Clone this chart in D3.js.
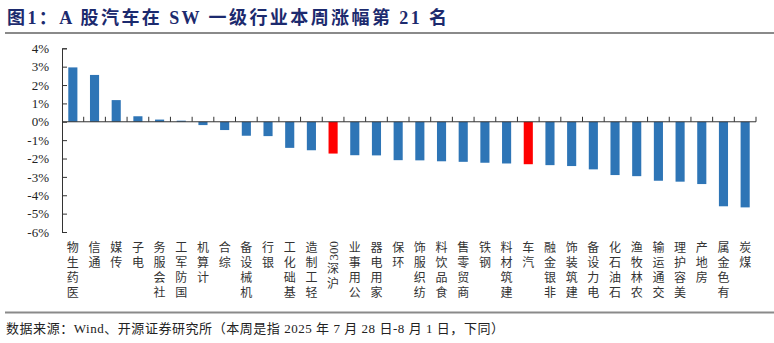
<!DOCTYPE html>
<html>
<head>
<meta charset="utf-8">
<script src="https://cdn.jsdelivr.net/npm/d3@7"></script>
<style>
  html, body { margin: 0; padding: 0; background: #fff; }
  svg { display: block; }
  .title { font-family: "Liberation Serif", "Noto Sans CJK SC", serif; font-weight: bold; font-size: 18px; fill: #1c2a6e; }
  .source { font-family: "Liberation Serif", "Noto Sans CJK SC", serif; font-size: 13px; fill: #222; }
  .y-axis text { font-family: "Liberation Serif", serif; font-size: 13px; fill: #222; }
  .cat-label { font-family: "Noto Sans CJK SC", sans-serif; font-size: 12px; fill: #333;
    writing-mode: vertical-rl; text-orientation: upright; letter-spacing: 3px; }
  .cat-latin { font-family: "Liberation Serif", serif; font-size: 13px; fill: #333; }
</style>
</head>
<body>
<div id="chart"></div>
<script>
// SW level-1 industries + CSI 300, weekly change (%)
const categories = ['医药生物', '通信', '传媒', '电子', '社会服务', '国防军工', '计算机', '综合',
  '机械设备', '银行', '基础化工', '轻工制造', '沪深300', '公用事业', '家用电器', '环保',
  '纺织服饰', '食品饮料', '商贸零售', '钢铁', '建筑材料', '汽车', '非银金融', '建筑装饰',
  '电力设备', '石油石化', '农林牧渔', '交通运输', '美容护理', '房地产', '有色金属', '煤炭'];
const values = [2.96, 2.55, 1.18, 0.30, 0.12, 0.06, -0.18, -0.45,
  -0.76, -0.78, -1.42, -1.55, -1.73, -1.82, -1.83, -2.09,
  -2.10, -2.15, -2.18, -2.23, -2.27, -2.31, -2.36, -2.41,
  -2.59, -2.90, -2.96, -3.21, -3.26, -3.39, -4.60, -4.66];
const highlighted = ['沪深300', '汽车'];
const yTicks = [4, 3, 2, 1, 0, -1, -2, -3, -4, -5, -6];

const titleText = '图1：A 股汽车在 SW 一级行业本周涨幅第 21 名';
const sourceText = '数据来源：Wind、开源证券研究所（本周是指 2025 年 7 月 28 日-8 月 1 日，下同）';

const width = 774, height = 343;
const plot = {left: 62, right: 756, top: 48.3, bottom: 232};

const svg = d3.select('#chart').append('svg')
    .attr('width', width)
    .attr('height', height);

// title and separator lines
svg.append('text')
    .attr('class', 'title')
    .attr('x', 7)
    .attr('y', 24)
    .attr('textLength', 440)
    .attr('lengthAdjust', 'spacing')
    .text(titleText);

svg.append('line')
    .attr('x1', 5).attr('x2', width)
    .attr('y1', 33).attr('y2', 33)
    .attr('stroke', '#8a8a8a')
    .attr('stroke-width', 2);

svg.append('line')
    .attr('x1', 5).attr('x2', width)
    .attr('y1', 312.5).attr('y2', 312.5)
    .attr('stroke', '#8a8a8a')
    .attr('stroke-width', 2);

svg.append('text')
    .attr('class', 'source')
    .attr('x', 6)
    .attr('y', 333)
    .attr('textLength', 498)
    .attr('lengthAdjust', 'spacing')
    .text(sourceText);

// scales
const x = d3.scaleBand()
    .domain(categories)
    .range([plot.left, plot.right])
    .paddingInner(0.58)
    .paddingOuter(0.29);

const y = d3.scaleLinear()
    .domain([-6, 4])
    .range([plot.bottom, plot.top]);

const boundary = d3.scaleLinear()
    .domain([0, categories.length])
    .range([plot.left, plot.right]);

// bars
svg.append('g')
  .selectAll('rect')
    .data(categories)
  .join('rect')
    .attr('x', d => x(d))
    .attr('width', x.bandwidth())
    .attr('y', (d, i) => y(Math.max(0, values[i])))
    .attr('height', (d, i) => Math.abs(y(values[i]) - y(0)))
    .attr('fill', d => highlighted.includes(d) ? '#ff0000' : '#2e75b6');

// y axis, ticks pointing inward
const yAxis = svg.append('g')
    .attr('class', 'y-axis')
    .attr('transform', `translate(${plot.left},0)`)
    .call(d3.axisLeft(y)
      .tickValues(yTicks)
      .tickSize(-5)
      .tickPadding(13)
      .tickFormat(d => d + '%'));
yAxis.select('.domain').attr('stroke', '#333');
yAxis.selectAll('.tick line').attr('stroke', '#333');

// zero line with upward ticks between categories
const xAxis = svg.append('g');
xAxis.append('line')
    .attr('x1', plot.left).attr('x2', plot.right)
    .attr('y1', y(0)).attr('y2', y(0))
    .attr('stroke', '#333');
xAxis.selectAll('.xtick')
    .data(d3.range(1, categories.length + 1))
  .join('line')
    .attr('class', 'xtick')
    .attr('x1', d => boundary(d)).attr('x2', d => boundary(d))
    .attr('y1', y(0)).attr('y2', y(0) - 5)
    .attr('stroke', '#333');

// category labels read bottom-to-top with upright CJK glyphs,
// so the CJK part is written reversed in vertical mode; latin runs are rotated -90
const labelTop = 241;
categories.forEach(cat => {
  const cx = x(cat) + x.bandwidth() / 2;
  const latin = (cat.match(/[0-9A-Za-z]+$/) || [''])[0];
  const cjk = cat.slice(0, cat.length - latin.length).split('').reverse().join('');
  let cursor = labelTop;
  if (latin) {
    const t = svg.append('text')
        .attr('class', 'cat-latin')
        .attr('text-anchor', 'end')
        .attr('transform', `translate(${cx + 4.5},${cursor}) rotate(-90)`)
        .text(latin);
    cursor += t.node().getComputedTextLength() + 2;
  }
  svg.append('text')
      .attr('class', 'cat-label')
      .attr('x', cx)
      .attr('y', cursor)
      .text(cjk);
});
</script>
</body>
</html>
